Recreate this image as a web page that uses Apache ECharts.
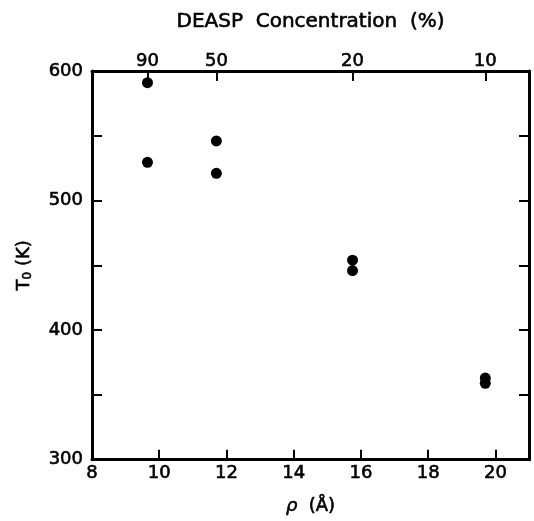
<!DOCTYPE html>
<html>
<head>
<meta charset="utf-8">
<script src="https://cdn.jsdelivr.net/npm/echarts@6/dist/echarts.min.js"></script>
<style>html,body{margin:0;padding:0;background:#fff}#c{width:534px;height:521px}</style>
</head>
<body>
<div id="c"></div>
<script>
// Data
const rhoValues = [9.65, 9.65, 11.7, 11.7, 15.75, 15.75, 19.7, 19.7];
const t0Values = [591, 529.5, 546, 521, 454, 446, 363, 359];
const concentrationLabels = ['90', '50', '20', '10'];
const concentrationRho = [9.65, 11.7, 15.75, 19.7];
const rhoTickLabels = [8, 10, 12, 14, 16, 18, 20];
const rhoTicks = [10, 12, 14, 16, 18, 20];
const t0TickLabels = [300, 400, 500, 600];
const t0Ticks = [350, 400, 450, 500, 550];

const FONT = 'DejaVu Sans, Liberation Sans, Arial, sans-serif';
const FS = 18;
const TB = 0.6; // slight text stroke for the medium-weight look
const txt = (size) => ({ fontFamily: FONT, fontSize: size, color: '#000', textBorderColor: '#000', textBorderWidth: TB });
const lineStyle = { color: '#000', width: 3 };
const tickStyle = { color: '#000', width: 2 };

const chart = echarts.init(document.getElementById('c'), null, { renderer: 'canvas' });
chart.setOption({
  animation: false,
  backgroundColor: '#fff',
  grid: { left: 92, right: 5, top: 71, bottom: 60, containLabel: false },
  xAxis: [
    {
      type: 'value', position: 'bottom', min: 8, max: 21,
      name: '{i|ρ}  (Å)', nameLocation: 'middle', nameGap: 38,
      nameTextStyle: Object.assign(txt(FS), { rich: { i: Object.assign(txt(FS), { fontStyle: 'italic' }) } }),
      axisLine: { show: true, onZero: false, lineStyle },
      axisTick: { show: true, inside: true, length: 10, lineStyle: tickStyle, customValues: rhoTicks },
      axisLabel: Object.assign(txt(FS), { customValues: rhoTickLabels, margin: 5 }),
      splitLine: { show: false }
    },
    {
      type: 'value', position: 'top', min: 8, max: 21,
      name: 'DEASP  Concentration  (%)', nameLocation: 'middle', nameGap: 39,
      nameTextStyle: txt(20),
      axisLine: { show: true, onZero: false, lineStyle },
      axisTick: { show: true, inside: true, length: 10, lineStyle: tickStyle, customValues: concentrationRho },
      axisLabel: Object.assign(txt(FS), {
        customValues: concentrationRho, margin: 1,
        formatter: function (v) {
          let best = 0;
          for (let k = 1; k < concentrationRho.length; k++) {
            if (Math.abs(concentrationRho[k] - v) < Math.abs(concentrationRho[best] - v)) best = k;
          }
          return concentrationLabels[best];
        }
      }),
      splitLine: { show: false }
    }
  ],
  yAxis: [
    {
      type: 'value', position: 'left', min: 300, max: 600,
      name: '{a|T}{s|0}{a| (K)}', nameLocation: 'middle', nameGap: 58, nameRotate: 90,
      nameTextStyle: { rich: { a: txt(FS), s: Object.assign(txt(12), { verticalAlign: 'bottom', padding: [8, 0, 0, 0] }) } },
      axisLine: { show: true, onZero: false, lineStyle },
      axisTick: { show: true, inside: true, length: 10, lineStyle: tickStyle, customValues: t0Ticks },
      axisLabel: Object.assign(txt(FS), { customValues: t0TickLabels, margin: 9 }),
      splitLine: { show: false }
    },
    {
      type: 'value', position: 'right', min: 300, max: 600,
      axisLine: { show: true, onZero: false, lineStyle },
      axisTick: { show: true, inside: true, length: 10, lineStyle: tickStyle, customValues: t0Ticks },
      axisLabel: { show: false },
      splitLine: { show: false }
    }
  ],
  series: [{
    type: 'scatter',
    xAxisIndex: 0, yAxisIndex: 0,
    symbol: 'circle', symbolSize: 11,
    itemStyle: { color: '#000', opacity: 1 },
    data: rhoValues.map((x, i) => [x, t0Values[i]])
  }]
});
</script>
</body>
</html>
